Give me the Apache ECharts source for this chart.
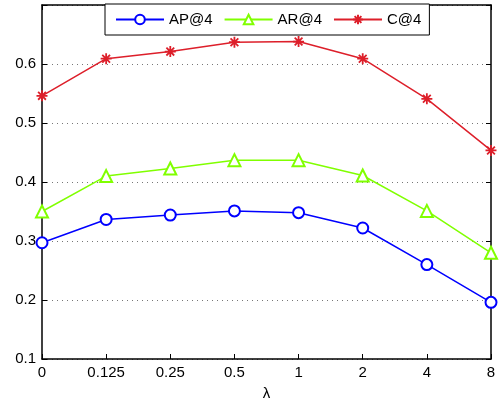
<!DOCTYPE html>
<html><head><meta charset="utf-8">
<script src="https://cdn.jsdelivr.net/npm/echarts@6/dist/echarts.min.js"></script>
<style>html,body{margin:0;padding:0;background:#fff}#c{width:500px;height:405px}</style>
</head><body><div id="c"></div>
<script>
const categories = ['0','0.125','0.25','0.5','1','2','4','8'];
const apValues = [0.297,0.3365,0.344,0.351,0.348,0.322,0.260,0.196];
const arValues = [0.350,0.410,0.423,0.437,0.437,0.411,0.351,0.280];
const cValues = [0.546,0.609,0.621,0.637,0.638,0.609,0.541,0.4535];
const yTicks = [0.1,0.2,0.3,0.4,0.5,0.6];
const seriesNames = ['AP@4','AR@4','C@4'];

const FONT = 'Liberation Sans, Arial, sans-serif';
const asterisk = 'path://M0,-10L0,10M-10,0L10,0M-7.07,-7.07L7.07,7.07M-7.07,7.07L7.07,-7.07';
const chart = echarts.init(document.getElementById('c'), null, {renderer:'canvas'});
const lineW = 1.5;
chart.setOption({
  animation:false,
  backgroundColor:'#fff',
  grid:{left:42,right:9,top:5,bottom:46,containLabel:false,outerBoundsMode:'none'},
  legend:{
    left:105, top:4, width:321, height:29,
    backgroundColor:'#fff', borderColor:'#000', borderWidth:1,
    padding:[8,8,8,10], itemGap:11, itemWidth:48, itemHeight:12,
    textStyle:{fontFamily:FONT,fontSize:15,color:'#000'},
    data:seriesNames
  },
  xAxis:[{
    type:'category', data:categories, boundaryGap:false,
    name:'λ', nameLocation:'middle', nameGap:27,
    nameTextStyle:{fontFamily:FONT,fontSize:15,color:'#000'},
    axisLine:{lineStyle:{color:'#000',width:1.5}},
    axisTick:{inside:true,length:5,lineStyle:{color:'#000'}},
    axisLabel:{fontFamily:FONT,fontSize:15,color:'#000',margin:6},
    splitLine:{show:false}
  },{
    type:'category', data:categories, boundaryGap:false, position:'top',
    axisLine:{lineStyle:{color:'#000',width:1.5}},
    axisTick:{inside:true,length:5,lineStyle:{color:'#000'}},
    axisLabel:{show:false}, splitLine:{show:false}
  }],
  yAxis:[{
    type:'value', min:0.1, max:0.7, interval:0.1,
    axisLine:{show:true,lineStyle:{color:'#000',width:1.5}},
    axisTick:{show:true,inside:true,length:5,lineStyle:{color:'#000'}},
    axisLabel:{fontFamily:FONT,fontSize:15,color:'#000',margin:6,
      formatter:function(v){
        for (const t of yTicks){ if (Math.abs(t-v)<1e-6) return t.toFixed(1); }
        return '';
      }},
    splitLine:{show:true,lineStyle:{color:'#777',type:[1,4],width:1}}
  },{
    type:'value', min:0.1, max:0.7, interval:0.1, position:'right',
    axisLine:{show:true,lineStyle:{color:'#000',width:1.5}},
    axisTick:{show:true,inside:true,length:5,lineStyle:{color:'#000'}},
    axisLabel:{show:false}, splitLine:{show:false}
  }],
  series:[
    {name:seriesNames[0], type:'line', data:apValues, symbol:'emptyCircle', symbolSize:11,
      lineStyle:{color:'#0000ff',width:lineW}, itemStyle:{color:'#0000ff',borderWidth:1.5}},
    {name:seriesNames[1], type:'line', data:arValues, symbol:'emptyTriangle', symbolSize:12,
      lineStyle:{color:'#80ff00',width:lineW}, itemStyle:{color:'#80ff00',borderWidth:1.5}},
    {name:seriesNames[2], type:'line', data:cValues, symbol:asterisk, symbolSize:11,
      lineStyle:{color:'#dd1f2a',width:lineW}, itemStyle:{color:'#dd1f2a',borderColor:'#dd1f2a',borderWidth:1.8}}
  ]
});
</script></body></html>
